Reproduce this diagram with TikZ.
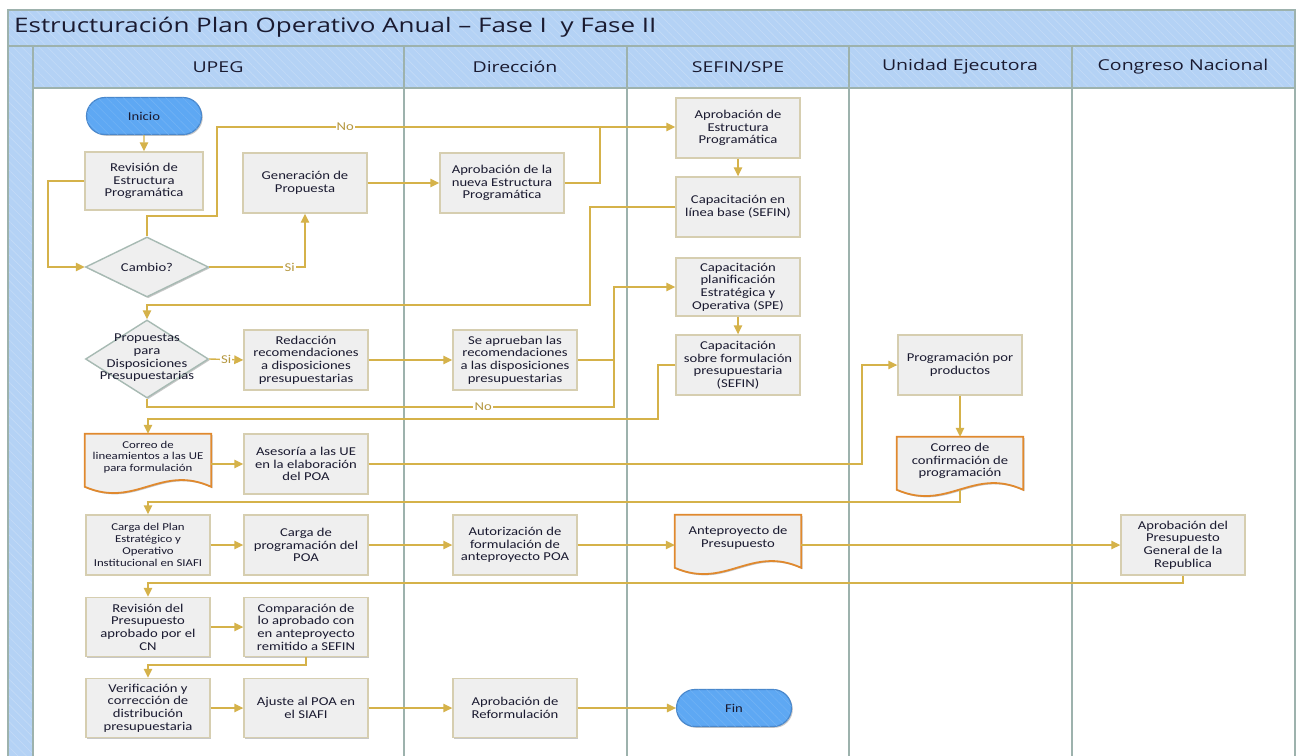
\documentclass[tikz,border=0pt]{standalone}
\usepackage{fontspec}
\setmainfont{Carlito}[FakeStretch=1.22]
\newfontfamily\hdrfont{Open Sans}[FakeStretch=1.3]
\usetikzlibrary{arrows.meta,shapes.geometric,shapes.misc,shadows,patterns.meta,calc}

\definecolor{bandblue}{HTML}{B4D2F5}
\definecolor{hatchblue}{HTML}{C4DBF7}
\definecolor{lanebd}{HTML}{9DB2AD}
\definecolor{boxfill}{HTML}{EFEFEF}
\definecolor{boxbd}{HTML}{D6CEB0}
\definecolor{gold}{HTML}{D5B24A}
\definecolor{docbd}{HTML}{E0892E}
\definecolor{termfill}{HTML}{5EA8F3}
\definecolor{termbd}{HTML}{4A88CC}
\definecolor{ink}{HTML}{1A1A30}
\definecolor{decbd}{HTML}{A7BAB3}

\newcommand\boxfont{\fontsize{12}{12.6}\selectfont}
\newcommand\smallboxfont{\fontsize{10.5}{11.8}\selectfont}
\newcommand\titlefont{\hdrfont\fontsize{20}{24}\selectfont}
\newcommand\lanefont{\hdrfont\fontsize{15}{18}\selectfont}

% document symbol drawn around an empty node: straight top, wavy bottom
\newcommand\docpath[1]{%
  \path[docshape] (#1.north west) -- (#1.north east) -- ($(#1.north east)+(0,53)$)
    .. controls ($(#1.north west)!0.6!(#1.north east)+(0,30)$)
       and ($(#1.north west)!0.4!(#1.north east)+(0,75)$) .. ($(#1.north west)+(0,53)$)
    -- cycle;
  \coordinate (#1-bot) at ($(#1.north)+(0,53)$);}

\begin{document}
\begin{tikzpicture}[x=1pt,y=-1pt,
  every node/.style={text=ink},
  lane/.style={draw=lanebd,line width=1.4pt},
  hatch/.style={postaction={pattern={Lines[angle=-45,distance=6pt,line width=.6pt]},pattern color=#1}},
  band/.style={fill=bandblue,hatch=hatchblue},
  shade/.style={drop shadow={shadow xshift=1.3pt,shadow yshift=-1.3pt,opacity=.22,fill=black}},
  box/.style={rectangle,draw=boxbd,fill=boxfill,line width=1.4pt,align=center,
    minimum width=124,minimum height=60,inner sep=1pt,font=\boxfont,shade},
  sbox/.style={box,font=\smallboxfont},
  term/.style={rounded rectangle,draw=termbd,fill=termfill,line width=1.2pt,
    minimum width=117,minimum height=37,inner sep=1pt,font=\boxfont,hatch=termfill!88!white,shade},
  dec/.style={diamond,draw=decbd,fill=boxfill,line width=1.4pt,inner sep=0pt,shade},
  docn/.style={rectangle,minimum width=126,minimum height=60,inner sep=0pt},
  docshape/.style={draw=docbd,fill=boxfill,line width=1.8pt,shade},
  txt/.style={align=center,inner sep=0pt,font=\boxfont},
  stxt/.style={txt,font=\smallboxfont},
  flow/.style={draw=gold,line width=1.4pt,-{Triangle[length=9pt,width=8.5pt]}},
  wire/.style={draw=gold,line width=1.4pt},
  lbl/.style={fill=white,inner sep=1.2pt,text=gold!85!black,font=\boxfont}]

\useasboundingbox (0,0) rectangle (1300,755);
\clip (0,0) rectangle (1300,755);
\fill[white] (0,0) rectangle (1300,755);

% ---------- pool and lanes ----------
\path[band] (8,10) rectangle (1295,46);
\path[band] (8,46) rectangle (33,790);
\path[band] (33,46) rectangle (1295,88);
\draw[lane] (8,10) rectangle (1295,790);
\draw[lane] (8,46) -- (1295,46);
\draw[lane] (33,88) -- (1295,88);
\foreach \lx in {33,404,627,849,1072} \draw[lane] (\lx,46) -- (\lx,790);

\node[anchor=west,font=\titlefont,inner sep=0pt] (title) at (14,27) {Estructuración Plan Operativo Anual – Fase I\ \ y Fase II};
\node[font=\lanefont] (hupeg) at (218,67) {UPEG};
\node[font=\lanefont] (hdir)  at (515,67) {Dirección};
\node[font=\lanefont] (hsef)  at (738,67) {SEFIN/SPE};
\node[font=\lanefont] (hue)   at (960,67) {Unidad Ejecutora};
\node[font=\lanefont] (hcn)   at (1183,67) {Congreso Nacional};

% ---------- UPEG ----------
\node[term] (ini) at (144,116) {Inicio};
\node[box,minimum width=118,minimum height=58] (rev) at (144,181) {Revisión de\\Estructura\\Programática};
\node[box] (gen) at (305,183) {Generación de\\Propuesta};
\node[dec,minimum width=123,minimum height=60] (cam) at (147,267) {};
\node[txt] (camt) at (147,267) {Cambio?};
\node[dec,minimum width=123,minimum height=78] (prop) at (147,359) {};
\node[txt] (propt) at (147,358) {Propuestas\\para\\Disposiciones\\Presupuestarias};
\node[box] (red) at (306,360) {Redacción\\recomendaciones\\a disposiciones\\presupuestarias};
\node[docn] (cor1) at (148,464) {};
\docpath{cor1}
\node[stxt] (cor1t) at (148,457) {Correo de\\lineamientos a las UE\\para formulación};
\node[box] (ases) at (306,464) {Asesoría a las UE\\en la elaboración\\del POA};
\node[sbox] (car1) at (148,545) {Carga del Plan\\Estratégico y\\Operativo\\Institucional en SIAFI};
\node[box] (car2) at (306,545) {Carga de\\programación del\\POA};
\node[box,minimum height=59] (revp) at (148,627) {Revisión del\\Presupuesto\\aprobado por el\\CN};
\node[box,minimum height=59] (comp) at (306,627) {Comparación de\\lo aprobado con\\en anteproyecto\\remitido a SEFIN};
\node[box,minimum height=59] (ver) at (148,708) {Verificación y\\corrección de\\distribución\\presupuestaria};
\node[box,minimum height=59] (aju) at (306,708) {Ajuste al POA en\\el SIAFI};

% ---------- Dirección ----------
\node[box] (aprn) at (502,183) {Aprobación de la\\nueva Estructura\\Programática};
\node[box] (seap) at (515,360) {Se aprueban las\\recomendaciones\\a las disposiciones\\presupuestarias};
\node[box] (aut) at (515,545) {Autorización de\\formulación de\\anteproyecto POA};
\node[box,minimum height=59] (aprr) at (515,708) {Aprobación de\\Reformulación};

% ---------- SEFIN/SPE ----------
\node[box] (apre) at (738,128) {Aprobación de\\Estructura\\Programática};
\node[box] (caplb) at (738,207) {Capacitación en\\línea base (SEFIN)};
\node[box,minimum height=58] (capp) at (738,287) {Capacitación\\planificación\\Estratégica y\\Operativa (SPE)};
\node[box] (capf) at (738,365) {Capacitación\\sobre formulación\\presupuestaria\\(SEFIN)};
\node[docn] (ante) at (738,545) {};
\docpath{ante}
\node[txt] (antet) at (738,538) {Anteproyecto de\\Presupuesto};
\node[term] (fin) at (734,708) {Fin};

% ---------- Unidad Ejecutora ----------
\node[box] (prog) at (960,365) {Programación por\\productos};
\node[docn] (cor2) at (960,467) {};
\docpath{cor2}
\node[txt] (cor2t) at (960,461) {Correo de\\confirmación de\\programación};

% ---------- Congreso Nacional ----------
\node[box] (aprp) at (1183,545) {Aprobación del\\Presupuesto\\General de la\\Republica};

% ---------- bend points ----------
\coordinate (k1) at (48,267);
\coordinate (k2a) at (147,216);
\coordinate (k2b) at (217,127);
\coordinate (j1) at (600,128);
\coordinate (k3) at (590,305);
\coordinate (j2) at (614,287);
\coordinate (k4) at (614,407);
\coordinate (k5) at (658,419);
\coordinate (k6) at (862,365);
\coordinate (k7) at (960,502);
\coordinate (k8) at (1183,583);
\coordinate (k9) at (306,665);

% ---------- connectors ----------
\draw[flow] (ini) -- (rev);
\draw[flow] (rev.west) -| (k1) -- (cam.west);
\draw[flow] (cam.north) -- (k2a) -| (k2b) -- node[lbl,pos=0.28] (lno1) {No} (k2b -| apre.west);
\draw[flow] (cam.east) -| node[lbl,pos=0.42] (lsi1) {Si} (gen.south);
\draw[flow] (gen) -- (aprn);
\draw[wire] (aprn.east) -| (j1);
\draw[flow] (apre) -- (caplb);
\draw[flow] (caplb.west) -| (k3) -| (prop.north);
\draw[flow] (prop.east) -- node[lbl] (lsi2) {Si} (red.west);
\draw[flow] (red) -- (seap);
\draw[flow] (seap.east) -| (j2) -- (capp.west);
\draw[wire] (prop.south) |- node[lbl,pos=0.86] (lno2) {No} (k4) -- (seap.east -| k4);
\draw[flow] (capp) -- (capf);
\draw[flow] (capf.west) -| (k5) -| (cor1.north);
\draw[flow] (cor1.east |- ases.west) -- (ases.west);
\draw[flow] (ases.east) -| (k6) -- (prog.west);
\draw[flow] (prog) -- (cor2);
\draw[flow] (cor2-bot) -- (k7) -| (car1.north);
\draw[flow] (car1) -- (car2);
\draw[flow] (car2) -- (aut);
\draw[flow] (aut) -- (ante.west);
\draw[flow] (ante.east) -- (aprp.west);
\draw[flow] (aprp.south) -- (k8) -| (revp.north);
\draw[flow] (revp) -- (comp);
\draw[flow] (comp.south) -- (k9) -| (ver.north);
\draw[flow] (ver) -- (aju);
\draw[flow] (aju) -- (aprr);
\draw[flow] (aprr) -- (fin);
\end{tikzpicture}
\end{document}
